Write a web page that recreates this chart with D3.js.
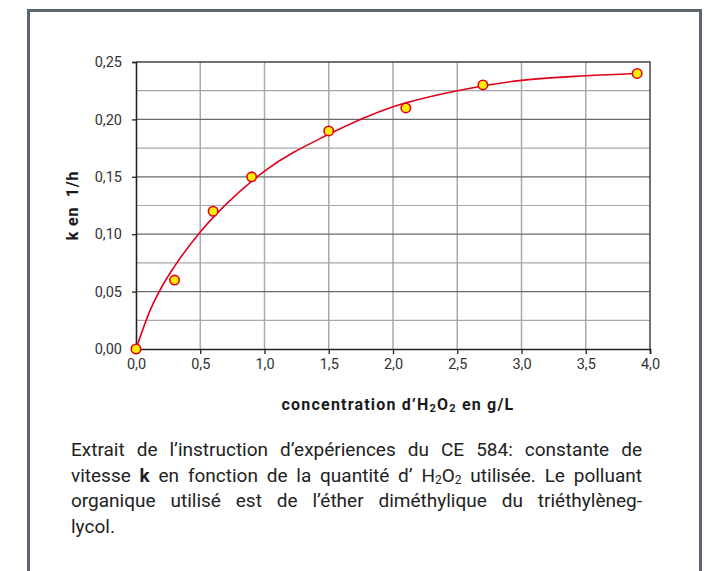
<!DOCTYPE html>
<html>
<head>
<meta charset="utf-8">
<script src="https://cdn.jsdelivr.net/npm/d3@7"></script>
<style>
  body { margin: 0; background: #fff; }
  #wrap { position: relative; width: 706px; height: 571px; overflow: hidden; }
  svg { position: absolute; left: 0; top: 0; }
  #caption {
    position: absolute; left: 71px; top: 437px; width: 571px;
    font-family: Roboto, sans-serif; font-size: 19px; line-height: 25.5px; color: #222;
  }
  #caption .j { text-align: justify; text-align-last: justify; }
  #caption sub { font-size: 12px; vertical-align: -2px; line-height: 0; }
</style>
</head>
<body>
<div id="wrap">
  <svg id="chart" width="706" height="571"></svg>
  <div id="caption">
    <div class="j">Extrait de l’instruction d’expériences du CE 584: constante de</div>
    <div class="j">vitesse <b>k</b> en fonction de la quantité d’ H<sub>2</sub>O<sub>2</sub> utilisée. Le polluant</div>
    <div class="j">organique utilisé est de l’éther diméthylique du triéthylèneg-</div>
    <div>lycol.</div>
  </div>
</div>
<script>
// mesures (points)
const concX = [0, 0.3, 0.6, 0.9, 1.5, 2.1, 2.7, 3.9];
const kVals = [0, 0.06, 0.12, 0.15, 0.19, 0.21, 0.23, 0.24];

// courbe d'ajustement
const fitX = [0, 0.05, 0.1, 0.2, 0.3, 0.5, 0.7, 1.0, 1.5, 2.0, 2.5, 3.0, 3.5, 3.9];
const fitK = [0, 0.016, 0.031, 0.054, 0.072, 0.102, 0.126, 0.155, 0.187, 0.211, 0.225, 0.234, 0.238, 0.240];

const xTicks = [0, 0.5, 1, 1.5, 2, 2.5, 3, 3.5, 4];
const yTicks = [0, 0.05, 0.1, 0.15, 0.2, 0.25];
const yMinor = [0.025, 0.075, 0.125, 0.175, 0.225];

const svg = d3.select('#chart');

// cadre
svg.append('rect')
  .attr('x', 28.5).attr('y', 10.5)
  .attr('width', 672).attr('height', 600)
  .attr('fill', 'none')
  .attr('stroke', '#5b6670')
  .attr('stroke-width', 3);

const mLeft = 136, mRight = 650, mTop = 62, mBottom = 349;
const x = d3.scaleLinear().domain([0, 4]).range([mLeft, mRight]);
const y = d3.scaleLinear().domain([0, 0.25]).range([mBottom, mTop]);

const g = svg.append('g');

// grille
g.append('g').selectAll('line').data(xTicks.slice(1, -1)).join('line')
  .attr('x1', d => x(d)).attr('x2', d => x(d))
  .attr('y1', mTop).attr('y2', mBottom)
  .attr('stroke', '#aaa').attr('stroke-width', 1.5);

g.append('g').selectAll('line').data(yMinor).join('line')
  .attr('x1', mLeft).attr('x2', mRight)
  .attr('y1', d => y(d)).attr('y2', d => y(d))
  .attr('stroke', '#a8a8a8').attr('stroke-width', 1.2);

g.append('g').selectAll('line').data(yTicks.slice(1, -1)).join('line')
  .attr('x1', mLeft).attr('x2', mRight)
  .attr('y1', d => y(d)).attr('y2', d => y(d))
  .attr('stroke', '#6a6a6a').attr('stroke-width', 1.2);

// bord haut / droit
g.append('path')
  .attr('d', `M${mLeft},${mTop}H${mRight}V${mBottom}`)
  .attr('fill', 'none').attr('stroke', '#444').attr('stroke-width', 1.5);

// axes
const xAxis = g.append('g')
  .attr('transform', `translate(0,${mBottom})`)
  .call(d3.axisBottom(x).tickValues(xTicks).tickSize(5).tickPadding(5)
    .tickFormat(d => d3.format('.1f')(d).replace('.', ',')));
const yAxis = g.append('g')
  .attr('transform', `translate(${mLeft},0)`)
  .call(d3.axisLeft(y).tickValues(yTicks).tickSize(4).tickPadding(10)
    .tickFormat(d => d3.format('.2f')(d).replace('.', ',')));

[xAxis, yAxis].forEach(a => {
  a.select('.domain').attr('stroke', '#222').attr('stroke-width', 1.6);
  a.selectAll('.tick line').attr('stroke', '#222').attr('stroke-width', 1.3);
  a.selectAll('.tick text')
    .attr('font-family', 'Roboto, sans-serif')
    .attr('font-size', 14.5)
    .attr('fill', '#333');
});

// courbe
const line = d3.line()
  .x((d, i) => x(fitX[i]))
  .y(d => y(d))
  .curve(d3.curveMonotoneX);
g.append('path')
  .datum(fitK)
  .attr('d', line)
  .attr('fill', 'none')
  .attr('stroke', '#e3001b')
  .attr('stroke-width', 1.6);

// points
g.append('g').selectAll('circle').data(kVals).join('circle')
  .attr('cx', (d, i) => x(concX[i]))
  .attr('cy', d => y(d))
  .attr('r', 4.7)
  .attr('fill', '#ffee00')
  .attr('stroke', '#e3001b')
  .attr('stroke-width', 1.6);

// titres
svg.append('text')
  .attr('transform', `translate(78,${(mTop + mBottom) / 2}) rotate(-90)`)
  .attr('text-anchor', 'middle')
  .attr('font-family', 'Roboto, sans-serif')
  .attr('font-weight', 'bold')
  .attr('font-size', 16)
  .attr('letter-spacing', 0.8)
  .attr('fill', '#1a1a1a')
  .attr('xml:space', 'preserve')
  .text('k en  1/h');

const xl = svg.append('text')
  .attr('x', 398).attr('y', 410)
  .attr('text-anchor', 'middle')
  .attr('font-family', 'Roboto, sans-serif')
  .attr('font-weight', 'bold')
  .attr('font-size', 16)
  .attr('letter-spacing', 1.2)
  .attr('fill', '#1a1a1a');
xl.append('tspan').text('concentration d’H');
xl.append('tspan').attr('font-size', 11).attr('dy', 2).text('2');
xl.append('tspan').attr('dy', -2).text('O');
xl.append('tspan').attr('font-size', 11).attr('dy', 2).text('2');
xl.append('tspan').attr('dy', -2).text(' en g/L');
</script>
</body>
</html>
